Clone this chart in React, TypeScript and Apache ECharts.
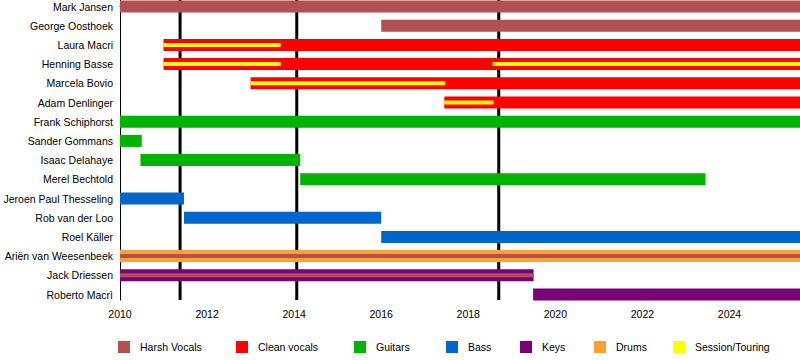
import React, { useEffect, useRef } from 'react';
import * as echarts from 'echarts';

// Members, top to bottom
const members = [
  'Mark Jansen', 'George Oosthoek', 'Laura Macri', 'Henning Basse', 'Marcela Bovio',
  'Adam Denlinger', 'Frank Schiphorst', 'Sander Gommans', 'Isaac Delahaye', 'Merel Bechtold',
  'Jeroen Paul Thesseling', 'Rob van der Loo', 'Roel Käller', 'Ariën van Weesenbeek',
  'Jack Driessen', 'Roberto Macrì',
];

const START = 2010;
const END = 2025.62;

// [member, start, end, band] ; band "full" = whole bar, "inner" = thin stripe
const harshVocals: [string, number, number, string][] = [
  ['Mark Jansen', 2010, END, 'full'],
  ['George Oosthoek', 2016.0, END, 'full'],
  ['Ariën van Weesenbeek', 2010, END, 'inner'],
  ['Jack Driessen', 2010, 2019.5, 'inner'],
];
const cleanVocals: [string, number, number, string][] = [
  ['Laura Macri', 2011.0, END, 'full'],
  ['Henning Basse', 2011.0, END, 'full'],
  ['Marcela Bovio', 2013.0, END, 'full'],
  ['Adam Denlinger', 2017.45, END, 'full'],
];
const guitars: [string, number, number, string][] = [
  ['Frank Schiphorst', 2010, END, 'full'],
  ['Sander Gommans', 2010, 2010.5, 'full'],
  ['Isaac Delahaye', 2010.47, 2014.14, 'full'],
  ['Merel Bechtold', 2014.14, 2023.45, 'full'],
];
const bass: [string, number, number, string][] = [
  ['Jeroen Paul Thesseling', 2010, 2011.47, 'full'],
  ['Rob van der Loo', 2011.47, 2016.0, 'full'],
  ['Roel Käller', 2016.0, END, 'full'],
];
const keys: [string, number, number, string][] = [
  ['Jack Driessen', 2010, 2019.5, 'full'],
  ['Roberto Macrì', 2019.49, END, 'full'],
];
const drums: [string, number, number, string][] = [
  ['Ariën van Weesenbeek', 2010, END, 'full'],
];
const session: [string, number, number, string][] = [
  ['Laura Macri', 2011.0, 2013.69, 'inner'],
  ['Henning Basse', 2011.0, 2013.69, 'inner'],
  ['Henning Basse', 2018.56, END, 'inner'],
  ['Marcela Bovio', 2013.0, 2017.47, 'inner'],
  ['Adam Denlinger', 2017.45, 2018.58, 'inner'],
];

// Album release markers
const albumReleases = [2011.38, 2014.06, 2018.7];

const roles = [
  { name: 'Harsh Vocals', color: '#b35050', data: harshVocals, z: 4 },
  { name: 'Clean vocals', color: '#ff0000', data: cleanVocals, z: 3 },
  { name: 'Guitars', color: '#00b300', data: guitars, z: 3 },
  { name: 'Bass', color: '#0066cc', data: bass, z: 3 },
  { name: 'Keys', color: '#780078', data: keys, z: 3 },
  { name: 'Drums', color: '#ffa033', data: drums, z: 3 },
  { name: 'Session/Touring', color: '#ffff00', data: session, z: 5 },
];

const legendLefts = [118, 236, 354, 446, 520, 594, 673];

const FONT = 'Liberation Sans, Arial, Helvetica, sans-serif';
const ROW_PX = 19.2;
const Y_MIN = -6.5 / ROW_PX;
const Y_MAX = Y_MIN + 300 / ROW_PX;

export default function App() {
  const ref = useRef<HTMLDivElement>(null);

  useEffect(() => {
    document.body.style.margin = '0';
    if (!ref.current) return;
    const chart = echarts.init(ref.current, undefined, { renderer: 'svg' });

    const barSeries = roles.map((r) => ({
      name: r.name,
      type: 'custom',
      z: r.z,
      itemStyle: { color: r.color },
      encode: { x: [1, 2], y: 0 },
      data: r.data.map((d) => [members.indexOf(d[0]), d[1], d[2], d[3] === 'full' ? 12 : 4]),
      renderItem: (params: any, api: any) => {
        const row = api.value(0);
        const p0 = api.coord([api.value(1), row]);
        const p1 = api.coord([api.value(2), row]);
        const h = api.value(3);
        return {
          type: 'rect',
          shape: { x: p0[0], y: p0[1] - h / 2, width: p1[0] - p0[0], height: h },
          style: { fill: r.color },
        };
      },
    }));

    const lineSeries = {
      name: 'Releases',
      type: 'custom',
      z: 1,
      encode: { x: 0, y: 1 },
      data: albumReleases.map((x) => [x, 0]),
      renderItem: (params: any, api: any) => {
        const cs = params.coordSys;
        const p = api.coord([api.value(0), 0]);
        return {
          type: 'line',
          shape: { x1: p[0], y1: cs.y, x2: p[0], y2: cs.y + cs.height },
          style: { stroke: '#000', lineWidth: 3 },
        };
      },
    };

    const option: any = {
      animation: false,
      textStyle: { fontFamily: FONT },
      grid: { left: 120, right: 0, top: 0, height: 300 },
      xAxis: {
        type: 'value',
        min: START,
        max: END,
        interval: 1,
        axisLine: { show: true, lineStyle: { color: '#000', width: 1 } },
        axisTick: { show: true, length: 4, lineStyle: { color: '#000' } },
        splitLine: { show: false },
        axisLabel: {
          color: '#000',
          fontSize: 10.5,
          fontFamily: FONT,
          margin: 8,
          showMaxLabel: false,
          formatter: (v: number) => (Number.isInteger(v) && v % 2 === 0 ? String(v) : ''),
        },
      },
      yAxis: {
        type: 'value',
        inverse: true,
        min: Y_MIN,
        max: Y_MAX,
        axisLine: { show: true, lineStyle: { color: '#000', width: 1 } },
        axisTick: { show: false },
        splitLine: { show: false },
        axisLabel: {
          color: '#000',
          fontSize: 10.5,
          fontFamily: FONT,
          margin: 7,
          customValues: members.map((_, i) => i),
          formatter: (v: number) => (Number.isInteger(v) && members[v] ? members[v] : ''),
        },
      },
      legend: roles.map((r, i) => ({
        data: [r.name],
        left: legendLefts[i],
        top: 341,
        padding: 0,
        itemWidth: 12,
        itemHeight: 12,
        icon: 'rect',
        selectedMode: false,
        textStyle: { color: '#000', fontSize: 10.5, fontFamily: FONT, padding: [0, 0, 0, 5] },
      })),
      series: [lineSeries, ...barSeries],
    };

    chart.setOption(option);
    return () => chart.dispose();
  }, []);

  return <div ref={ref} style={{ width: 800, height: 360 }} />;
}
